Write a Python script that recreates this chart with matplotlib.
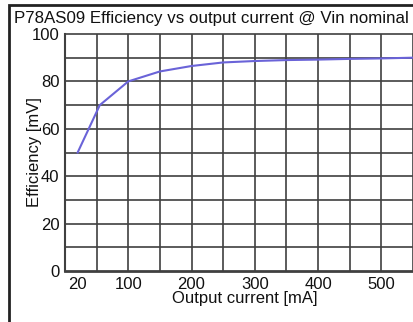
import matplotlib
matplotlib.use("Agg")
import matplotlib.pyplot as plt
from matplotlib.patches import Rectangle

plt.rcParams['font.family'] = ['Liberation Sans', 'DejaVu Sans']

current_mA = [20, 55, 100, 150, 200, 250, 300, 350, 400, 450, 500, 550]
efficiency = [50, 70, 80, 84.2, 86.5, 88, 88.6, 89, 89.2, 89.5, 89.7, 90]
x_ticks = [20, 100, 200, 300, 400, 500]
y_ticks = [0, 20, 40, 60, 80, 100]

W, H = 414, 322
fig = plt.figure(figsize=(W / 100, H / 100), dpi=100)

left, bottom, top = 65, 271, 34
px_per_mA = (413 - 65) / 550.0
xmax = 560
ax = fig.add_axes([left / W, (H - bottom) / H, xmax * px_per_mA / W, (bottom - top) / H])

ax.plot(current_mA, efficiency, color='#6a63d8', lw=1.5, zorder=3)
ax.set_xlim(0, xmax)
ax.set_ylim(0, 100)

for gx in range(50, 600, 50):
    ax.axvline(gx, color='#404040', lw=1.2, zorder=1)
for gy in range(10, 100, 10):
    ax.axhline(gy, color='#404040', lw=1.2, zorder=1)

ax.set_xticks(x_ticks)
ax.set_yticks(y_ticks)
ax.tick_params(length=0, labelsize=12, colors='#111111', pad=4)
for s in ax.spines.values():
    s.set_visible(False)
ax.spines['top'].set_visible(True)
ax.spines['top'].set_color('#404040')
ax.spines['top'].set_linewidth(1.2)
ax.spines['left'].set_visible(True)
ax.spines['left'].set_color('#404040')
ax.spines['left'].set_linewidth(1.5)
ax.spines['bottom'].set_visible(True)
ax.spines['bottom'].set_color('#404040')
ax.spines['bottom'].set_linewidth(2)

fig.text(245 / W, 1 - 299 / H, 'Output current [mA]', ha='center', va='center', fontsize=12, color='#111111')
fig.text(34 / W, 1 - 152 / H, 'Efficiency [mV]', ha='center', va='center', rotation=90, fontsize=12, color='#111111')
fig.text(14 / W, 1 - 18 / H, 'P78AS09 Efficiency vs output current @ Vin nominal', ha='left', va='center', fontsize=12.2, color='#111111')

fig.patches.append(Rectangle((9 / W, -0.2), 2, 1.2 - 5 / H, transform=fig.transFigure,
                             fill=False, edgecolor='#222222', lw=2))

fig.savefig('out.png', dpi=100)
